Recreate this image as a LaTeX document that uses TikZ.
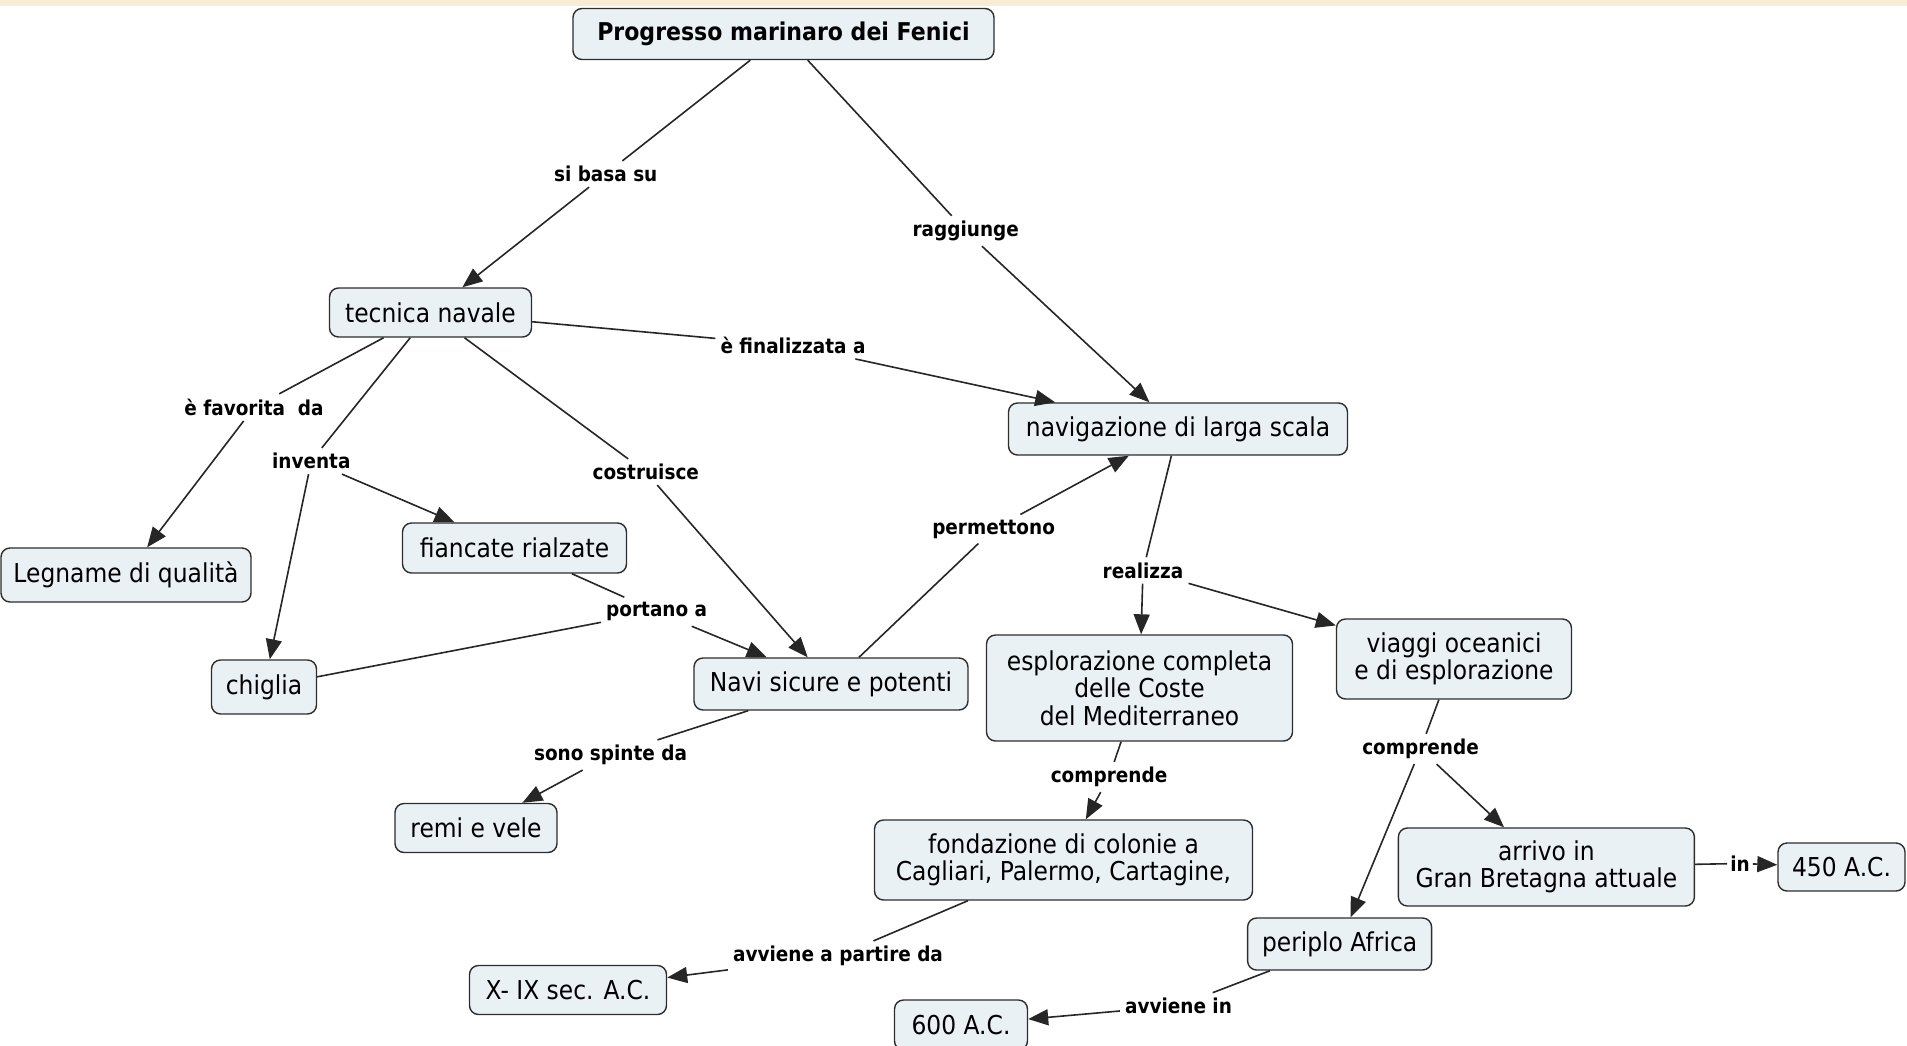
\documentclass[tikz,border=0pt]{standalone}
\usepackage{fontspec}
\setmainfont{DejaVu Sans}[FakeStretch=0.9]
\usetikzlibrary{arrows.meta}
\definecolor{nodefill}{RGB}{234,241,244}
\definecolor{nodeline}{RGB}{45,45,45}
\definecolor{topband}{RGB}{249,236,212}
\begin{document}
\begin{tikzpicture}[x=1pt,y=-1pt,
  concept/.style={draw=nodeline, line width=1.4pt, fill=nodefill, rounded corners=9pt,
    align=center, inner sep=0pt, font=\fontsize{26}{27.5}\selectfont},
  lab/.style={font=\bfseries\fontsize{20.5}{22}\selectfont, inner sep=5pt},
  conn/.style={line width=1.6pt, draw=black!85},
  arr/.style={conn, -{Triangle[length=20pt,width=16pt]}},
]
\useasboundingbox (0,0) rectangle (1907,1045);
\fill[topband] (0,0) rectangle (1907,6);

% concepts
\node[concept, font=\bfseries\fontsize{24.5}{26}\selectfont, minimum width=421pt, minimum height=51pt] (P) at (783.5,34) {Progresso marinaro dei Fenici};
\node[concept, minimum width=202pt, minimum height=49pt] (T) at (430.5,312.5) {tecnica navale};
\node[concept, minimum width=339pt, minimum height=52pt] (N) at (1178,429) {navigazione di larga scala};
\node[concept, minimum width=250pt, minimum height=54pt] (Leg) at (126,575) {Legname di qualità};
\node[concept, minimum width=224pt, minimum height=50pt] (Fia) at (514.5,548) {fiancate rialzate};
\node[concept, minimum width=105pt, minimum height=54pt] (Chi) at (264,687) {chiglia};
\node[concept, minimum width=274pt, minimum height=52pt] (Navi) at (831,684) {Navi sicure e potenti};
\node[concept, minimum width=162pt, minimum height=49pt] (Remi) at (476,828) {remi e vele};
\node[concept, minimum width=306pt, minimum height=106pt] (Esp) at (1139.5,688) {esplorazione completa\\delle Coste\\del Mediterraneo};
\node[concept, minimum width=235pt, minimum height=80pt] (Via) at (1454,659) {viaggi oceanici\\e di esplorazione};
\node[concept, minimum width=378pt, minimum height=80pt] (Fon) at (1063.5,860) {fondazione di colonie a\\Cagliari, Palermo, Cartagine,};
\node[concept, minimum width=197pt, minimum height=49pt] (X) at (568,990) {X- IX sec. A.C.};
\node[concept, minimum width=296pt, minimum height=78pt] (Arr) at (1546.4,867) {arrivo in\\Gran Bretagna attuale};
\node[concept, minimum width=127pt, minimum height=48pt] (Q) at (1841.5,867) {450 A.C.};
\node[concept, minimum width=184pt, minimum height=52pt] (Per) at (1339.6,944) {periplo Africa};
\node[concept, minimum width=133pt, minimum height=50pt] (S) at (961,1025) {600 A.C.};

% linking phrases
\node[lab] (l1) at (605.7,174) {si basa su};
\node[lab] (l2) at (965.7,231) {raggiunge};
\node[lab] (l3) at (793,345.4) {è finalizzata a};
\node[lab] (l4) at (254,407.4) {è favorita\ \ da};
\node[lab] (l5) at (311.3,461) {inventa};
\node[lab] (l6) at (645.8,472) {costruisce};
\node[lab] (l7) at (993.6,529) {permettono};
\node[lab] (l8) at (656.7,611.7) {portano a};
\node[lab] (l9) at (1143,570.4) {realizza};
\node[lab] (l10) at (610.5,755) {sono spinte da};
\node[lab] (l11) at (1109,777) {comprende};
\node[lab] (l12) at (1420.5,749) {comprende};
\node[lab] (l13) at (838,956) {avviene a partire da};
\node[lab] (l14) at (1178.5,1005.8) {avviene in};
\node[lab, inner sep=3pt] (l15) at (1740,863.5) {in};

% connectors
\draw[conn] (P) -- (l1);   \draw[arr] (l1) -- (T);
\draw[conn] (P) -- (l2);   \draw[arr] (l2) -- (N);
\draw[conn] (T) -- (l3);   \draw[arr] (l3) -- (N);
\draw[conn] (T) -- (l4);   \draw[arr] (l4) -- (Leg);
\draw[conn] (T) -- (l5);   \draw[arr] (l5) -- (Chi);  \draw[arr] (l5) -- (Fia);
\draw[conn] (T) -- (l6);   \draw[arr] (l6) -- (Navi);
\draw[conn] (Fia) -- (l8); \draw[conn] (Chi) -- (l8); \draw[arr] (l8) -- (Navi);
\draw[conn] (Navi) -- (l7); \draw[arr] (l7) -- (N);
\draw[conn] (N) -- (l9);   \draw[arr] (l9) -- (Esp);  \draw[arr] (l9) -- (Via);
\draw[conn] (Navi) -- (l10); \draw[arr] (l10) -- (Remi);
\draw[conn] (Esp) -- (l11); \draw[arr] (l11) -- (Fon);
\draw[conn] (Via) -- (l12); \draw[arr] (l12) -- (Per); \draw[arr] (l12) -- (Arr);
\draw[conn] (Fon) -- (l13); \draw[arr] (l13) -- (X);
\draw[conn] (Arr) -- (l15); \draw[arr] (l15) -- (Q);
\draw[conn] (Per) -- (l14); \draw[arr] (l14) -- (S);
\end{tikzpicture}
\end{document}
